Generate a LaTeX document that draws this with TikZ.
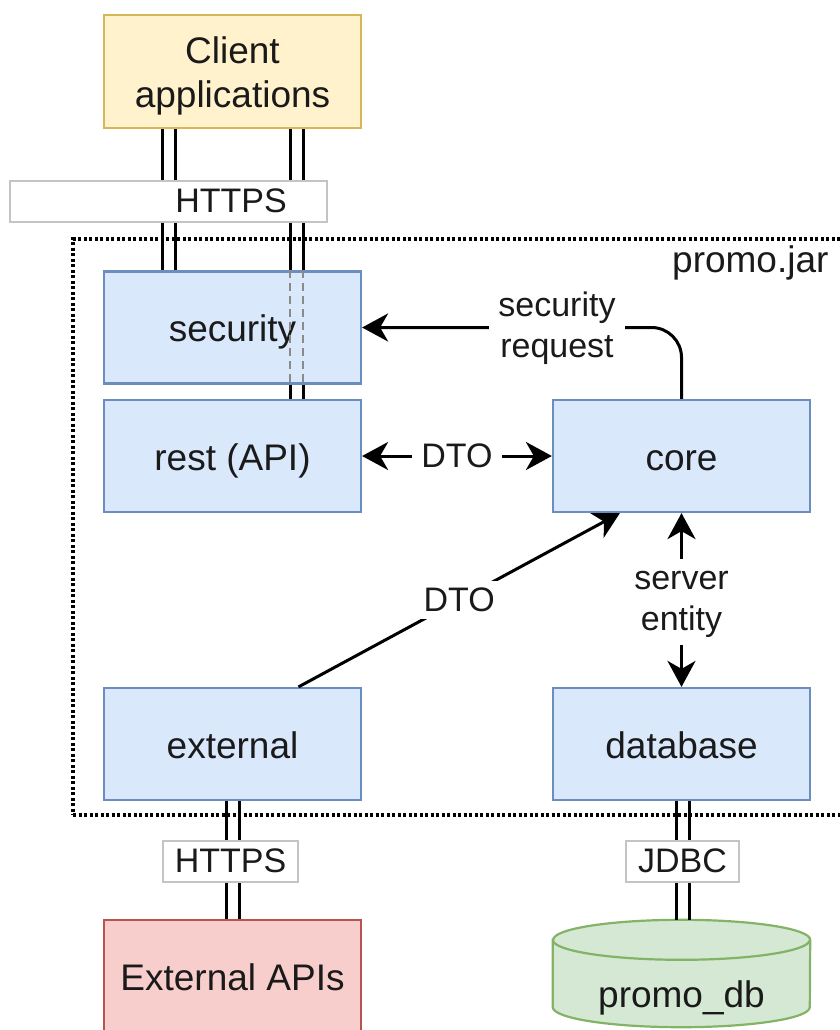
\documentclass[tikz,border=0pt]{standalone}
\usepackage{fontspec}
\setmainfont{Liberation Sans}
\usetikzlibrary{arrows.meta,calc}
\definecolor{bluefill}{HTML}{DAE8FC}
\definecolor{blueline}{HTML}{6C8EBF}
\definecolor{yelfill}{HTML}{FFF2CC}
\definecolor{yelline}{HTML}{D6B656}
\definecolor{redfill}{HTML}{F8CECC}
\definecolor{redline}{HTML}{B85450}
\definecolor{grnfill}{HTML}{D5E8D4}
\definecolor{grnline}{HTML}{82B366}
\definecolor{txtcol}{HTML}{1A1A1A}
\definecolor{lblgray}{HTML}{C4C4C4}
\definecolor{dashgray}{HTML}{8A8A8A}
\newcommand\lowertxt[2]{\raisebox{-#1}[\height][\depth]{#2}}
\begin{document}
\begin{tikzpicture}[x=1pt,y=-1pt,
  bigtext/.style={font=\fontsize{37}{44}\selectfont, text=txtcol},
  smalltext/.style={font=\fontsize{34}{41}\selectfont, text=txtcol},
  basebox/.style={bigtext, line width=2.2pt, minimum width=257pt, minimum height=112pt, inner sep=0pt, align=center},
  oneline/.style={text height=34pt, text depth=6pt},
  comp/.style={basebox, oneline, draw=blueline, fill=bluefill},
  yelbox/.style={basebox, draw=yelline, fill=yelfill, minimum height=113pt},
  redbox/.style={basebox, oneline, draw=redline, fill=redfill},
  wire/.style={line width=3pt, black},
  hidwire/.style={line width=2.6pt, dashgray, dash pattern=on 8pt off 5pt},
  conn/.style={line width=3pt, black},
  arr/.style={conn, -{Stealth[length=26pt, width=28pt, inset=8pt]}},
  biarr/.style={conn, {Stealth[length=26pt, width=28pt, inset=8pt]}-{Stealth[length=26pt, width=28pt, inset=8pt]}},
  elabel/.style={smalltext, fill=white, align=center, inner xsep=9pt, inner ysep=4pt},
  lblbox/.style={smalltext, draw=lblgray, line width=1.2pt, fill=white, minimum height=41pt, inner sep=0pt, text height=26pt, text depth=5pt},
  container/.style={line width=3.2pt, black, dash pattern=on 3pt off 2.5pt}
]
\useasboundingbox (0,0) rectangle (840,1030);
\clip (0,0) rectangle (840,1030);

% container
\node[container, draw, minimum width=827pt, minimum height=576pt, inner sep=0pt] (jar) at (486.5,527) {};
\node[bigtext, anchor=east] (jarlbl) at (832,263) {promo.jar};

% components
\node[yelbox] (client) at (232.5,71.5) {\lowertxt{5.5pt}{\begin{tabular}{@{}c@{}}Client\\applications\end{tabular}}};
\node[comp] (security) at (232.5,327.5) {security};
\node[comp] (rest) at (232.5,456) {rest (API)};
\node[comp] (core) at (681.5,456) {core};
\node[comp] (external) at (232.5,744) {external};
\node[comp] (database) at (681.5,744) {database};
\node[redbox] (extapi) at (232.5,976) {External APIs};

% database cylinder
\node[minimum width=257pt, minimum height=107pt, inner sep=0pt] (db) at (681.5,973.5) {};
\filldraw[fill=grnfill, draw=grnline, line width=2.2pt]
  ($(db.north west)+(0,20)$) -- ($(db.south west)+(0,-20)$)
  arc[start angle=180, end angle=360, x radius=128.5pt, y radius=20pt]
  -- ($(db.north east)+(0,20)$)
  arc[start angle=0, end angle=180, x radius=128.5pt, y radius=20pt] -- cycle;
\draw[grnline, line width=2.2pt] ($(db.north west)+(0,20)$)
  arc[start angle=180, end angle=360, x radius=128.5pt, y radius=20pt];
\node[bigtext, oneline] (dblbl) at (681.5,993) {promo\_db};

% client -> security (left pair)
\draw[wire] ($(client.south)+(-70.5,0)$) -- ($(security.north)+(-70.5,0)$);
\draw[wire] ($(client.south)+(-57.5,0)$) -- ($(security.north)+(-57.5,0)$);
% client -> rest (right pair, hidden behind security)
\draw[wire] ($(client.south)+(57.5,0)$) -- ($(security.north)+(57.5,0)$);
\draw[wire] ($(client.south)+(70.5,0)$) -- ($(security.north)+(70.5,0)$);
\draw[hidwire] ($(security.north)+(57.5,0)$) -- ($(security.south)+(57.5,0)$);
\draw[hidwire] ($(security.north)+(70.5,0)$) -- ($(security.south)+(70.5,0)$);
\draw[wire] ($(security.south)+(57.5,0)$) -- ($(rest.north)+(57.5,0)$);
\draw[wire] ($(security.south)+(70.5,0)$) -- ($(rest.north)+(70.5,0)$);
\node[lblbox, minimum width=317pt] (httpsbg) at (168.5,201.5) {};
\node[smalltext, text height=26pt, text depth=5pt] (https1) at (231,201.5) {HTTPS};

% external -> External APIs
\draw[wire] ($(external.south)+(-6.5,0)$) -- ($(extapi.north)+(-6.5,0)$);
\draw[wire] ($(external.south)+(6.5,0)$) -- ($(extapi.north)+(6.5,0)$);
\node[lblbox, minimum width=135pt] (https2) at (230.5,861.5) {HTTPS};

% database -> promo_db
\draw[wire] ($(database.south)+(-5.5,0)$) -- ($(db.north)+(-5.5,0)$);
\draw[wire] ($(database.south)+(7.5,0)$) -- ($(db.north)+(7.5,0)$);
\node[lblbox, minimum width=113pt] (jdbc) at (682.5,861.5) {JDBC};

% security request
\draw[arr, rounded corners=30pt] (core.north) |- (security.east);
\node[elabel] (secreq) at (557,329) {\begin{tabular}{@{}c@{}}security\\request\end{tabular}};

% DTO rest <-> core
\draw[biarr] (rest.east) -- (core.west) node[elabel, midway, text height=26pt, text depth=4pt] (dto1) {DTO};

% DTO external -> core
\draw[arr] ($(external.north)+(66,0)$) -- ($(core.south west)+(68,0)$) node[elabel, midway, inner xsep=4pt, text height=26pt, text depth=4pt] (dto2) {DTO};

% server entity
\draw[biarr] (core.south) -- (database.north) node[elabel, midway, inner xsep=4pt, inner ysep=2pt, yshift=-2pt] (srvent) {\begin{tabular}{@{}c@{}}server\\entity\end{tabular}};
\end{tikzpicture}
\end{document}
